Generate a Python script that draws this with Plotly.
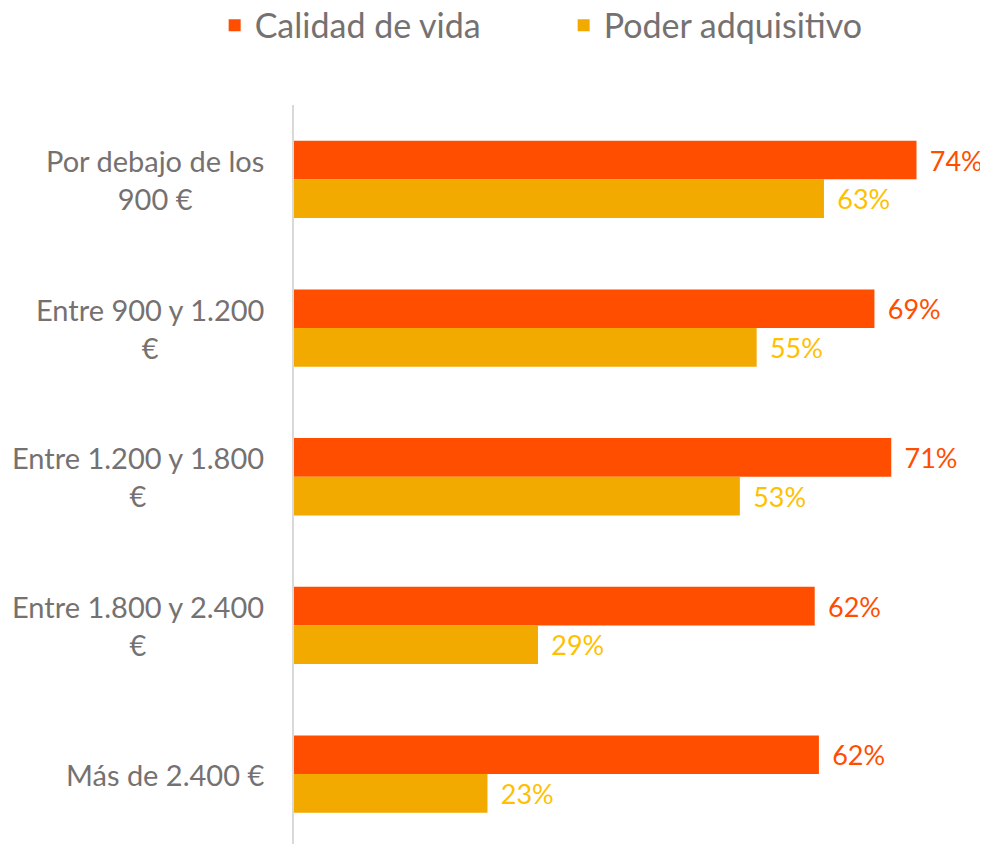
import plotly.graph_objects as go

categories = ["Por debajo de los<br>900 €", "Entre 900 y 1.200<br>€", "Entre 1.200 y 1.800<br>€",
              "Entre 1.800 y 2.400<br>€", "Más de 2.400 €"]
calidad_vida = [74, 69, 71, 61.9, 62.4]
poder_adquisitivo = [63, 55, 53, 29, 23]

ORANGE = "#FF4E00"
GOLD = "#F2A900"
GOLD_TXT = "#FFC000"
GRAY = "#767171"
FONT = "Lato"

fig = go.Figure()
fig.add_trace(go.Bar(
    y=categories, x=calidad_vida, orientation="h", name="Calidad de vida",
    marker=dict(color=ORANGE, line=dict(width=0)),
    texttemplate="\u00a0\u2009%{x:.0f}%", textposition="outside", cliponaxis=False,
    constraintext="none",
    textfont=dict(family=FONT, size=27, color=ORANGE),
))
fig.add_trace(go.Bar(
    y=categories, x=poder_adquisitivo, orientation="h", name="Poder adquisitivo",
    marker=dict(color=GOLD, line=dict(width=0)),
    texttemplate="\u00a0\u2009%{x:.0f}%", textposition="outside", cliponaxis=False,
    constraintext="none",
    textfont=dict(family=FONT, size=27, color=GOLD_TXT),
))

for c in categories:
    fig.add_annotation(
        x=0, xref="paper", y=c, yref="y", text=c, showarrow=False,
        xanchor="right", yanchor="middle", xshift=-28, align="center",
        font=dict(family=FONT, size=29, color=GRAY),
    )

fig.update_layout(
    width=980, height=836,
    margin=dict(l=286, r=0, t=97, b=0),
    paper_bgcolor="white", plot_bgcolor="white",
    barmode="group", bargap=0.48, bargroupgap=0,
    font=dict(family=FONT, color=GRAY),
    legend=dict(
        orientation="h", xref="container", yref="container",
        x=0.567, y=0.979, xanchor="center", yanchor="middle",
        font=dict(family=FONT, size=34, color=GRAY),
        traceorder="normal", itemwidth=30, entrywidth=304,
    ),
    xaxis=dict(range=[0, 82.5], visible=False, showgrid=False, zeroline=False),
    yaxis=dict(
        autorange=False, range=[4.47, -0.5], type="category",
        showticklabels=False, showgrid=False, zeroline=False,
        showline=True, linecolor="#D9D9D9", linewidth=2, ticks="",
    ),
)

fig.write_html("out.html")
